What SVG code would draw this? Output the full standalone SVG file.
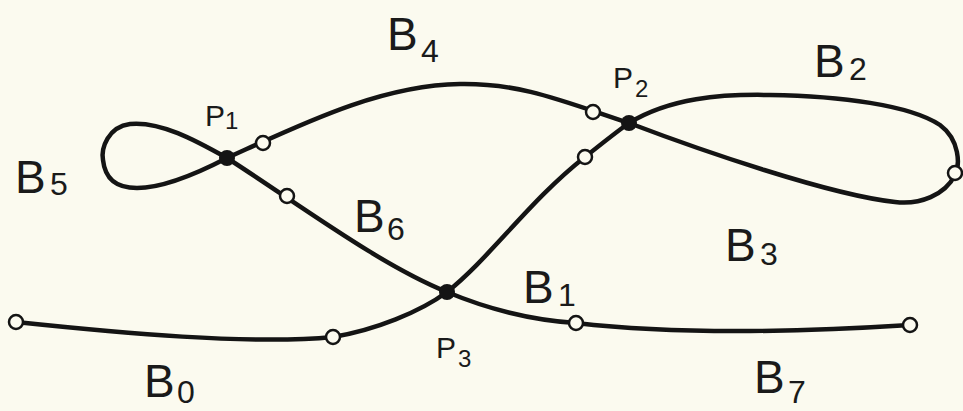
<svg xmlns="http://www.w3.org/2000/svg" width="963" height="411" viewBox="0 0 963 411">
<style>
.br{fill:none;stroke:#141414;stroke-width:4.5;stroke-linecap:round;stroke-linejoin:round}
.oc{fill:#fcfbf0;stroke:#141414;stroke-width:2.5}
.jn{fill:#141414}
.lb{font-family:"Liberation Sans",Arial,sans-serif;fill:#1a1a1a}
.B{font-size:46px}
.Bs{font-size:32px}
.P{font-size:30px}
.Ps{font-size:24px}
</style>
<rect width="963" height="411" fill="#fbfaef"/>
<g id="connectors">
<path id="B0" class="br" d="M16,322 C120,333 250,345 333,337"/>
<path id="B1" class="br" d="M333,337 C375,330 420,312 447,292 C490,258 530,200 585,157 C600,145 615,133 629,123"/>
<path id="B4" class="br" d="M227,158 C300,125 380,85 460,84 C520,83 560,100 629,123"/>
<path id="B5" class="br" d="M227,158 C195,140 160,121 130,124 C108,127 101,148 103,160 C105,178 115,188 137,188 C165,188 200,172 227,158"/>
<path id="B6" class="br" d="M227,158 C300,205 380,265 447,292 C490,310 530,320 576,323"/>
<path id="B7" class="br" d="M576,323 C680,335 800,332 910,325"/>
<path id="B23" class="br" d="M629,123 C670,98 720,94 770,95 C840,96 910,105 940,125 C960,140 960,165 955,175 C945,195 920,205 895,202 C830,195 700,150 629,123"/>
</g>
<g id="n_P1"><circle class="jn" cx="227" cy="158" r="8"/></g>
<g id="n_P2"><circle class="jn" cx="629" cy="123" r="8"/></g>
<g id="n_P3"><circle class="jn" cx="447" cy="292" r="8"/></g>
<g id="n_c1"><circle class="oc" cx="263" cy="143" r="7"/></g>
<g id="n_c2"><circle class="oc" cx="287" cy="196" r="7"/></g>
<g id="n_c3"><circle class="oc" cx="593" cy="112" r="7"/></g>
<g id="n_c4"><circle class="oc" cx="585" cy="157" r="7"/></g>
<g id="n_c5"><circle class="oc" cx="955" cy="173" r="7"/></g>
<g id="n_c6"><circle class="oc" cx="16" cy="322" r="7"/></g>
<g id="n_c7"><circle class="oc" cx="333" cy="337" r="7"/></g>
<g id="n_c8"><circle class="oc" cx="576" cy="323" r="7"/></g>
<g id="n_c9"><circle class="oc" cx="910" cy="325" r="7"/></g>
<g id="labels">
<text class="lb B" x="387" y="50">B</text><text class="lb Bs" x="421" y="62">4</text>
<text class="lb B" x="814" y="77">B</text><text class="lb Bs" x="849" y="80">2</text>
<text class="lb B" x="15" y="193">B</text><text class="lb Bs" x="50" y="195">5</text>
<text class="lb B" x="354" y="232">B</text><text class="lb Bs" x="387" y="240">6</text>
<text class="lb B" x="523" y="303">B</text><text class="lb Bs" x="558" y="306">1</text>
<text class="lb B" x="725" y="261">B</text><text class="lb Bs" x="760" y="265">3</text>
<text class="lb B" x="144" y="397">B</text><text class="lb Bs" x="177" y="403">0</text>
<text class="lb B" x="754" y="393">B</text><text class="lb Bs" x="788" y="403">7</text>
<text class="lb P" x="205" y="126">P</text><text class="lb Ps" x="225" y="129">1</text>
<text class="lb P" x="613" y="88">P</text><text class="lb Ps" x="635" y="97">2</text>
<text class="lb P" x="436" y="358">P</text><text class="lb Ps" x="458" y="367">3</text>
</g>
</svg>
